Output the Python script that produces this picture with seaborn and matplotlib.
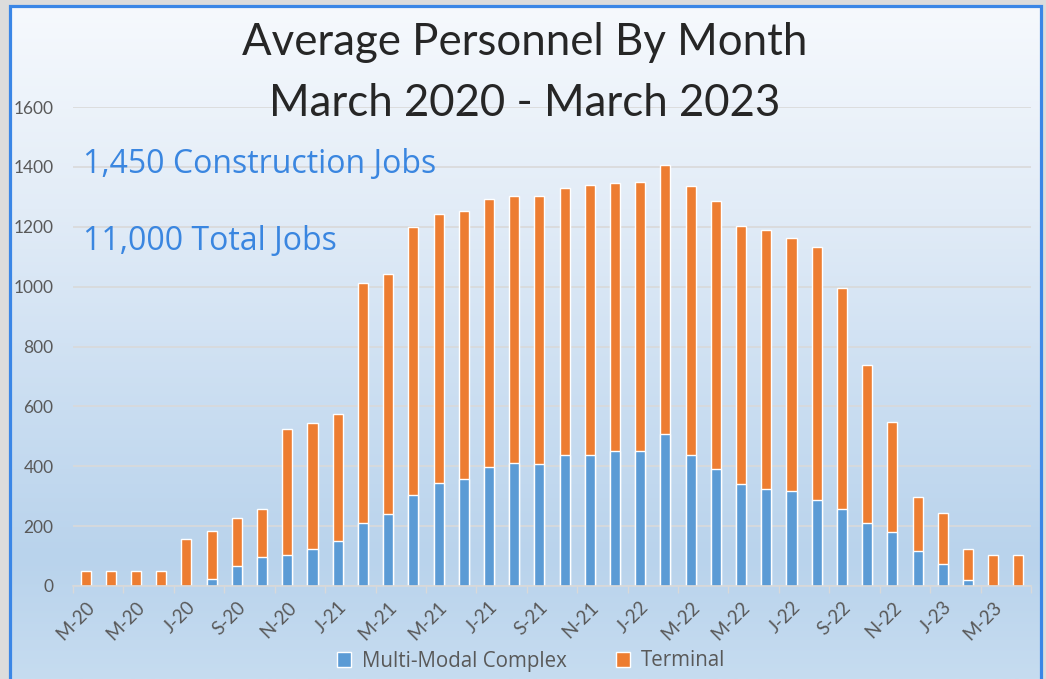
"""average personnel by month, stacked bars over a gradient panel"""

import numpy as np
import seaborn as sns
import matplotlib.pyplot as plt
from matplotlib.colors import LinearSegmentedColormap
from matplotlib.patches import Rectangle, Patch

# one entry per month, March 2020 .. April 2023
months = [
    "M-20", "A-20", "M-20", "J-20", "J-20", "A-20", "S-20", "O-20", "N-20", "D-20",
    "J-21", "F-21", "M-21", "A-21", "M-21", "J-21", "J-21", "A-21", "S-21", "O-21", "N-21", "D-21",
    "J-22", "F-22", "M-22", "A-22", "M-22", "J-22", "J-22", "A-22", "S-22", "O-22", "N-22", "D-22",
    "J-23", "F-23", "M-23", "A-23",
]
multimodal = [
    0, 0, 0, 0, 0, 23, 66, 97, 103, 124, 151, 211, 241, 305, 345, 356, 396, 410, 406,
    436, 436, 451, 452, 509, 439, 390, 340, 323, 316, 287, 256, 211, 179, 117, 73, 21, 0, 0,
]
terminal = [
    51, 51, 51, 51, 157, 160, 161, 159, 423, 421, 422, 801, 802, 895, 897, 896, 896, 894, 896,
    895, 905, 895, 896, 897, 897, 896, 864, 865, 845, 845, 739, 527, 369, 180, 171, 103, 105, 105,
]
series_names = ["Multi-Modal Complex", "Terminal"]
title_lines = ["Average Personnel By Month", "March 2020 - March 2023"]
notes = ["1,450 Construction Jobs", "11,000 Total Jobs"]

BLUE = "#5b9bd5"
ORANGE = "#ed7d31"
GREY_TXT = "#595959"
GRID = "#d9d9d9"

sns.set_theme(style="white")
plt.rcParams["font.family"] = ["Lato", "DejaVu Sans"]
WIDE = ["Open Sans", "DejaVu Sans"]

W, H = 1046, 679
fig = plt.figure(figsize=(W / 100, H / 100), dpi=100)
fig.patch.set_facecolor("#dcdcdc")

# gradient panel behind the chart
bg = fig.add_axes([11 / W, 0, (1040 - 11) / W, 1 - 7 / H], zorder=0)
grad = LinearSegmentedColormap.from_list(
    "bg",
    [(0.0, "#f6f9fd"), (0.3, "#e2ecf7"), (0.6, "#c9ddf1"), (0.82, "#b9d3ec"), (1.0, "#c6dcf0")],
)
bg.imshow(np.linspace(0, 1, 256).reshape(-1, 1), aspect="auto", cmap=grad, extent=[0, 1, 1, 0])
bg.axis("off")
fig.patches.append(
    Rectangle((10.2 / W, -0.05), (1041 - 10.2) / W, 1.05 - 6.2 / H, transform=fig.transFigure,
              fill=False, edgecolor="#3a86e6", linewidth=2.3, zorder=1)
)

ax = fig.add_axes([73 / W, 1 - 586 / H, (1031 - 73) / W, (586 - 107) / H], zorder=2)
ax.patch.set_alpha(0)

idx = np.arange(len(months))
total = np.add(multimodal, terminal)

# stacked look: full total in orange, multi-modal drawn over it from zero
sns.barplot(x=idx, y=total, color=ORANGE, width=0.4, saturation=1, errorbar=None, ax=ax)
sns.barplot(x=idx, y=multimodal, color=BLUE, width=0.4, saturation=1, errorbar=None, ax=ax)

ax.set_xlim(-0.5, len(months) - 0.5)
ax.set_ylim(0, 1600)
ax.set_yticks(range(0, 1601, 200))
ax.set_xticks(idx[::2])
ax.set_xticklabels(months[::2], rotation=45, ha="right", va="top", rotation_mode="anchor")
ax.set_xticks(np.arange(-0.5, len(months), 2), minor=True)
ax.tick_params(axis="x", which="major", length=0, pad=9, labelsize=13.5, labelcolor=GREY_TXT)
ax.tick_params(axis="x", which="minor", length=5, width=1, color=GRID, bottom=True)
ax.tick_params(axis="y", length=0, pad=14, labelsize=12.5, labelcolor=GREY_TXT)
ax.set_xlabel("")
ax.set_ylabel("")

ax.yaxis.grid(True, color=GRID, linewidth=1.2)
ax.set_axisbelow(True)
for side in ["top", "right", "left"]:
    ax.spines[side].set_visible(False)
ax.spines["bottom"].set_color(GRID)
ax.spines["bottom"].set_linewidth(1.2)

# titles and the two blue call-outs
fig.text(0.502, 1 - 55 / H, title_lines[0], ha="center", va="baseline", fontsize=31.5, color="#262626")
fig.text(0.502, 1 - 116 / H, title_lines[1], ha="center", va="baseline", fontsize=31.5, color="#262626")
fig.text(83 / W, 1 - 173 / H, notes[0], ha="left", va="baseline", fontsize=23, color="#3a86e0",
         family=WIDE)
fig.text(83 / W, 1 - 250 / H, notes[1], ha="left", va="baseline", fontsize=23, color="#3a86e0",
         family=WIDE)

handles = [Patch(facecolor=BLUE, label=series_names[0]), Patch(facecolor=ORANGE, label=series_names[1])]
fig.legend(handles=handles, loc="center", bbox_to_anchor=(531 / W, 1 - 661 / H), ncol=2,
           frameon=False, prop={"family": WIDE, "size": 14.8}, labelcolor=GREY_TXT,
           handlelength=0.7, handleheight=0.7, handletextpad=0.5, columnspacing=2.4)

fig.savefig("out.png", dpi=100)
